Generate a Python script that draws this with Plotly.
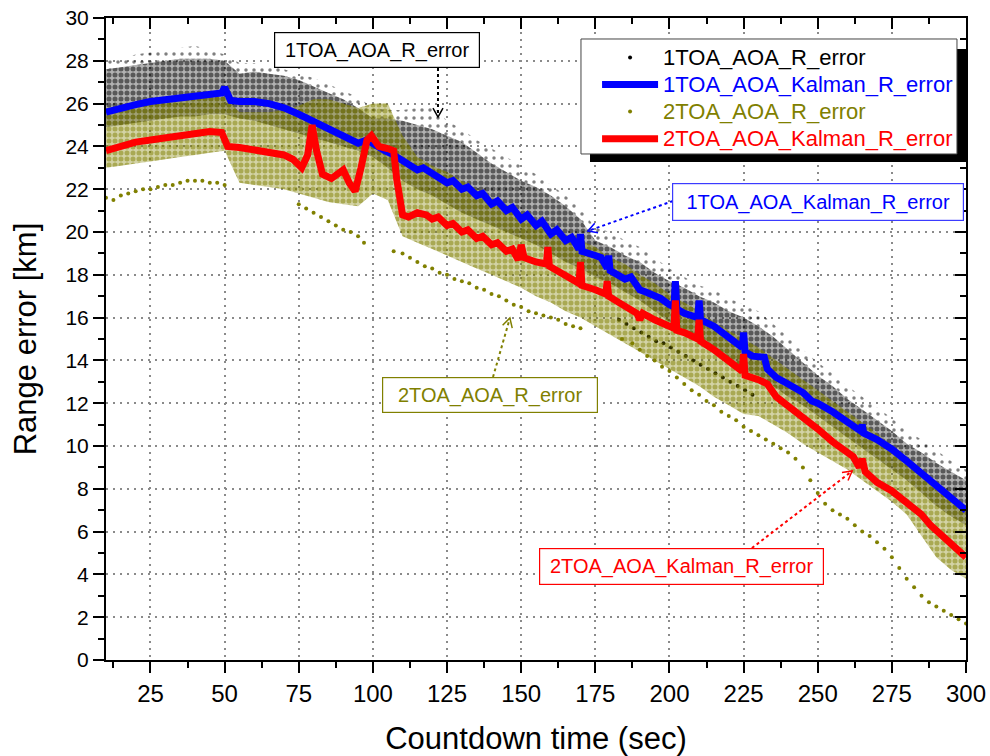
import math
import plotly.graph_objects as go

# ---------------- data ----------------
X5 = list(range(10, 301, 5))

# 1TOA_AOA_R_error : dense scatter cloud, upper / lower envelope
BLK_TOP = [27.6, 27.7, 27.8, 27.9, 28.0, 28.1, 28.1, 28.1, 28.0, 27.4,
           27.5, 27.4, 27.3, 27.1, 26.8, 26.5, 26.2, 25.8, 25.3, 25.3,
           25.2, 25.0, 24.8, 24.5, 24.2, 23.7, 23.2, 22.8, 22.4, 22.1,
           21.7, 21.2, 20.6, 19.6, 19.3, 18.9, 18.6, 18.1, 17.7, 17.4,
           17.0, 16.7, 16.3, 16.0, 15.6, 15.1, 14.5, 13.9, 13.3, 12.8,
           12.2, 11.7, 11.2, 10.7, 10.1, 9.7, 9.2, 8.8, 8.4]
BLK_BOT = [24.9, 25.0, 25.1, 25.2, 25.3, 25.4, 25.4, 25.5, 25.5, 25.3,
           25.2, 25.0, 24.8, 24.6, 24.4, 24.2, 24.0, 23.8, 23.5, 23.0,
           22.4, 22.0, 21.7, 21.3, 20.9, 20.6, 20.3, 20.0, 19.7, 19.4,
           19.0, 18.6, 18.3, 17.9, 17.6, 17.2, 16.8, 16.3, 15.8, 15.3,
           14.9, 14.4, 13.9, 13.5, 13.3, 12.8, 12.3, 11.9, 11.4, 10.9,
           10.4, 9.9, 9.4, 8.9, 8.4, 7.8, 7.2, 6.7, 6.3]
# sparse outlying 1TOA points above the dense band (upper limit)
BLK_OUT = [28.0, 28.1, 28.3, 28.4, 28.5, 28.6, 28.7, 28.5, 28.3, 27.9,
           27.9, 27.8, 27.6, 27.4, 27.2, 26.9, 26.6, 26.3, 25.8, 25.7,
           25.7, 25.8, 25.9, 25.2, 24.8, 24.3, 23.9, 23.5, 23.1, 22.7,
           22.2, 21.7, 21.1, 20.2, 20.0, 19.6, 19.3, 18.8, 18.3, 17.9,
           17.5, 17.3, 16.9, 16.6, 16.3, 15.7, 15.1, 14.5, 13.9, 13.4,
           12.8, 12.3, 11.8, 11.3, 10.7, 10.3, 9.8, 9.3, 8.9]
# separate thin strand of 1TOA points below the main band
BLK_LOW_X = [183, 185.5, 188, 190.5, 193, 195.5, 198, 200.5, 203, 205.5,
             208, 210.5, 213, 215.5, 218, 220.5, 223, 225.5, 228]
BLK_LOW_Y = [15.9, 15.7, 15.5, 15.3, 15.1, 14.9, 14.8, 14.6, 14.4, 14.2,
             14.0, 13.8, 13.6, 13.4, 13.2, 13.0, 12.8, 12.6, 12.4]

# 2TOA_AOA_R_error : dense scatter cloud, upper / lower envelope
OLV_TOP = [25.8, 25.9, 26.0, 26.1, 26.2, 26.3, 26.4, 26.4, 26.3, 25.6,
           25.6, 25.6, 25.7, 25.9, 26.2, 26.2, 26.0, 25.8, 26.0, 26.0,
           24.5, 23.5, 23.1, 22.8, 22.4, 22.0, 21.6, 21.3, 20.9, 20.5,
           20.2, 19.9, 19.6, 19.3, 18.8, 18.5, 18.0, 17.6, 17.1, 16.7,
           16.3, 15.8, 15.4, 15.0, 14.6, 14.1, 13.6, 13.1, 12.6, 12.1,
           11.6, 11.1, 10.6, 10.0, 9.4, 8.9, 8.3, 7.7, 7.2]
OLV_BOT = [23.0, 23.1, 23.2, 23.3, 23.4, 23.5, 23.6, 23.7, 23.8, 22.3,
           22.2, 22.1, 22.0, 21.8, 21.6, 21.4, 21.3, 21.2, 21.8, 21.5,
           19.8, 19.5, 19.2, 18.9, 18.6, 18.3, 18.0, 17.7, 17.4, 17.0,
           16.7, 16.3, 16.0, 15.6, 15.2, 14.8, 14.4, 14.0, 13.6, 13.2,
           12.8, 12.3, 11.9, 11.5, 11.4, 11.0, 10.6, 10.1, 9.7, 9.3,
           8.9, 8.4, 7.9, 7.4, 6.8, 5.8, 4.8, 4.2, 3.8]
# lowest strand of 2TOA points (None = gap)
OLV_LOW_X = [10, 12.5, 15, 17.5, 20, 22.5, 25, 27.5, 30, 32.5, 35, 37.5, 40, 42.5, 45, 47.5, 50, None,
             75, 77.5, 80, 82.5, 85, 87.5, 90, 92.5, 95, 97, None,
             107, 110, 112.5, 115, 117.5, 120, 122.5, 125, 127.5, 130, 132.5, 135, 137.5, 140,
             142.5, 145, 147.5, 150, 152.5, 155, 157.5, 160, 162.5, 165, 167.5, 170, None,
             184, 187.5, 190, 192.5, 195, 197.5, 200, 202.5, 205, 207.5, 210, 212.5, 215, 217.5,
             220, 222.5, 225, 227.5, 230, 232.5, 235, 237.5, 240, 242.5, 245, 247.5, 250, 252.5,
             255, 257.5, 260, 262.5, 265, 267.5, 270, 272.5, 275, 277.5, 280, 282.5, 285, 287.5,
             290, 292.5, 295, 297.5, 300]
OLV_LOW_Y = [21.6, 21.5, 21.7, 21.8, 21.9, 22.0, 22.0, 22.1, 22.2, 22.2, 22.3, 22.4, 22.4, 22.4, 22.3, 22.3, 22.2, None,
             21.3, 21.1, 20.9, 20.7, 20.5, 20.3, 20.1, 20.0, 19.8, 19.5, None,
             19.1, 19.0, 18.8, 18.6, 18.4, 18.3, 18.1, 18.0, 17.8, 17.7, 17.6, 17.4, 17.3, 17.1,
             17.0, 16.8, 16.6, 16.5, 16.3, 16.2, 16.1, 16.0, 15.9, 15.7, 15.6, 15.5, None,
             15.0, 14.8, 14.5, 14.2, 14.0, 13.7, 13.5, 13.2, 12.9, 12.6, 12.4, 12.1, 11.9, 11.6,
             11.4, 11.2, 10.9, 10.7, 10.5, 10.3, 10.1, 9.9, 9.7, 9.4, 9.0, 8.4, 7.8, 7.3,
             7.0, 6.8, 6.6, 6.3, 6.0, 5.8, 5.5, 5.2, 4.8, 4.3, 3.8, 3.4, 3.0, 2.7,
             2.5, 2.3, 2.1, 1.9, 1.7]

# 1TOA_AOA_Kalman_R_error
K1_X = [10, 15, 20, 25, 30, 35, 40, 45, 49, 50, 52, 55, 60, 65, 70, 75, 80, 85, 90, 95,
        98, 100, 104, 107, 110, 113, 115, 117, 120, 122, 125, 127, 130, 132, 135, 137, 140, 142, 145, 147,
        150, 152, 155, 157, 160, 162, 165, 167, 169.5, 170, 170.5, 175, 177, 179, 179.5, 180, 185, 187, 190, 192,
        195, 197, 200, 201.5, 202, 202.5, 205, 209.5, 210, 210.5, 215, 220, 224.5, 225, 225.5, 228, 232, 233, 236, 240,
        245, 248, 250, 255, 260, 264.5, 265, 265.5, 270, 275, 280, 285, 290, 295, 300]
K1_Y = [25.6, 25.8, 25.95, 26.1, 26.2, 26.3, 26.4, 26.45, 26.5, 26.75, 26.15, 26.1, 26.1, 26.0, 25.8, 25.5, 25.15, 24.8, 24.45, 24.15,
        24.3, 24.1, 23.8, 23.6, 23.3, 23.1, 22.9, 23.0, 22.7, 22.6, 22.3, 22.4, 22.0, 22.1, 21.7, 21.8, 21.3, 21.45, 21.0, 21.15,
        20.6, 20.8, 20.3, 20.5, 19.9, 20.1, 19.6, 19.75, 19.2, 19.9, 19.1, 18.9, 18.8, 18.3, 18.9, 18.2, 17.8, 17.9, 17.3, 17.2,
        17.0, 16.9, 16.6, 16.5, 17.7, 16.4, 16.2, 16.0, 16.8, 15.9, 15.6, 15.1, 14.6, 15.3, 14.4, 14.2, 14.15, 13.6, 13.2, 12.9,
        12.5, 12.1, 12.0, 11.6, 11.1, 10.7, 11.0, 10.6, 10.3, 9.85, 9.3, 8.7, 8.1, 7.6, 7.0]

# 2TOA_AOA_Kalman_R_error
K2_X = [10, 15, 20, 25, 30, 35, 40, 45, 49, 51, 55, 60, 65, 70, 73, 76, 78, 79.5, 81, 83,
        86, 88, 90, 92, 94, 96, 98, 99.5, 102, 105, 107, 108, 110, 112, 115, 118, 120, 122, 125, 127,
        130, 132, 135, 137, 140, 142, 145, 147, 149, 150, 151, 155, 158.5, 159, 159.5, 162, 165, 169.5, 170, 170.5,
        175, 178.5, 179, 179.5, 183, 187, 189, 190, 191, 195, 198, 201.5, 202, 202.5, 205, 209.5, 210, 210.5, 215, 220,
        224.5, 225, 225.5, 230, 233, 236, 240, 243, 246, 250, 255, 259, 262, 264, 265, 266, 270, 275, 281, 285,
        288, 292, 295, 300]
K2_Y = [23.8, 24.0, 24.2, 24.3, 24.4, 24.5, 24.6, 24.7, 24.65, 24.0, 23.95, 23.85, 23.7, 23.6, 23.4, 23.0, 23.6, 25.0, 23.8, 22.7,
        22.5, 22.7, 22.9, 22.3, 21.9, 23.0, 24.3, 24.5, 24.0, 23.9, 23.8, 22.5, 20.8, 20.7, 20.9, 20.8, 20.6, 20.7, 20.3, 20.4,
        20.0, 20.1, 19.7, 19.8, 19.4, 19.5, 19.1, 19.2, 18.7, 19.4, 18.8, 18.6, 18.5, 19.3, 18.4, 18.2, 17.95, 17.6, 18.6, 17.5,
        17.3, 17.1, 17.7, 17.0, 16.7, 16.4, 16.2, 15.9, 16.2, 15.9, 15.7, 15.5, 16.8, 15.4, 15.3, 15.0, 15.9, 14.9, 14.5, 14.0,
        13.5, 14.3, 13.3, 13.1, 12.9, 12.3, 11.9, 11.6, 11.2, 10.8, 10.2, 9.8, 9.5, 9.0, 9.4, 8.8, 8.3, 7.9, 7.3, 6.8,
        6.3, 5.8, 5.5, 4.8]

NAMES = ["1TOA_AOA_R_error", "1TOA_AOA_Kalman_R_error",
         "2TOA_AOA_R_error", "2TOA_AOA_Kalman_R_error"]
COLORS = ["#000000", "#0000FF", "#808000", "#FF0000"]
HAZE = ["rgba(0,0,0,0.30)", None, "rgba(128,128,0,0.35)", None]

X_TICKS = [25, 50, 75, 100, 125, 150, 175, 200, 225, 250, 275, 300]
Y_TICKS = list(range(0, 31, 2))

# ---------------- figure ----------------
FONT = "Liberation Sans, Arial, sans-serif"
fig = go.Figure()


def cloud(top, bot, color, bg="rgba(0,0,0,0)", size=6, solidity=0.55):
    return go.Scatter(
        x=X5 + X5[::-1], y=top + bot[::-1], fill="toself", mode="none",
        fillcolor="rgba(0,0,0,0)",
        fillpattern=dict(shape=".", fgcolor=color, bgcolor=bg,
                         size=size, solidity=solidity),
        showlegend=False, hoverinfo="skip")


def lname(i):
    return '<span style="color:%s;font-size:22px">%s</span>' % (COLORS[i], NAMES[i])


fig.add_trace(cloud(BLK_OUT, BLK_TOP, COLORS[0], size=8, solidity=0.15))
fig.add_trace(cloud(BLK_TOP, BLK_BOT, COLORS[0], bg=HAZE[0]))
fig.add_trace(go.Scatter(x=BLK_LOW_X, y=BLK_LOW_Y, mode="markers",
                         marker=dict(size=4, color=COLORS[0]),
                         name=lname(0), legendrank=1))
fig.add_trace(cloud(OLV_TOP, OLV_BOT, COLORS[2], bg=HAZE[2]))
fig.add_trace(go.Scatter(x=OLV_LOW_X, y=OLV_LOW_Y, mode="markers",
                         marker=dict(size=4, color=COLORS[2]),
                         name=lname(2), legendrank=3))
fig.add_trace(go.Scatter(x=K1_X, y=K1_Y, mode="lines",
                         line=dict(color=COLORS[1], width=7),
                         name=lname(1), legendrank=2))
fig.add_trace(go.Scatter(x=K2_X, y=K2_Y, mode="lines",
                         line=dict(color=COLORS[3], width=7),
                         name=lname(3), legendrank=4))
# carrier for the mirrored top/right axes
fig.add_trace(go.Scatter(x=[None], y=[None], xaxis="x2", yaxis="y2",
                         showlegend=False, hoverinfo="skip"))

grid = dict(showgrid=True, gridcolor="#8a8a8a", gridwidth=2, griddash="2px,5px")
common = dict(showline=True, linewidth=2, linecolor="black", zeroline=False,
              tickwidth=2, tickcolor="black", ticklen=11, automargin=False)

fig.update_layout(
    width=990, height=756,
    margin=dict(l=106, r=24, t=18, b=96),
    paper_bgcolor="white", plot_bgcolor="white",
    font=dict(family=FONT, color="black"),
    xaxis=dict(range=[10, 300], tickmode="array", tickvals=X_TICKS, ticks="outside",
               tickfont=dict(size=24), minor=dict(dtick=12.5, tick0=0, ticks="outside",
                                                 ticklen=6, tickwidth=2, tickcolor="black"),
               title=dict(text="Countdown time (sec)", font=dict(size=31), standoff=23),
               **grid, **common),
    yaxis=dict(range=[0, 30], tickmode="array", tickvals=Y_TICKS, ticks="outside",
               tickfont=dict(size=21), minor=dict(dtick=1, tick0=0, ticks="outside",
                                                 ticklen=6, tickwidth=2, tickcolor="black"),
               title=dict(text="Range error [km]", font=dict(size=31), standoff=20),
               **grid, **common),
    xaxis2=dict(range=[10, 300], overlaying="x", side="top", anchor="y2",
                tickmode="array", tickvals=X_TICKS, ticks="inside", showticklabels=False,
                showgrid=False,
                minor=dict(dtick=12.5, tick0=0, ticks="inside", ticklen=6,
                           tickwidth=2, tickcolor="black"),
                **common),
    yaxis2=dict(range=[0, 30], overlaying="y", side="right", anchor="x2",
                tickmode="array", tickvals=Y_TICKS, ticks="inside", showticklabels=False,
                showgrid=False,
                minor=dict(dtick=1, tick0=0, ticks="inside", ticklen=6,
                           tickwidth=2, tickcolor="black"),
                **common),
    legend=dict(x=0.571, y=0.9673, xanchor="left", yanchor="top",
                bgcolor="rgba(0,0,0,0)", borderwidth=0,
                font=dict(size=18.5, family=FONT), itemwidth=56, tracegroupgap=0),
    showlegend=True,
)

# legend frame with drop shadow
fig.add_shape(type="rect", xref="paper", yref="paper",
              x0=0.5628, x1=1.0012, y0=0.7757, y1=0.9517,
              fillcolor="black", line=dict(width=0), layer="above")
fig.add_shape(type="rect", xref="paper", yref="paper",
              x0=0.5523, x1=0.9895, y0=0.7882, y1=0.9673,
              fillcolor="white", line=dict(color="#444444", width=1), layer="above")

# ---------------- call-out boxes with dotted arrows ----------------
PX_X = 860 / 290.0   # pixels per x unit
PX_Y = 642 / 30.0    # pixels per y unit
CALLOUTS = [
    # series index, box centre x, y, box w, h, border colour, arrow tail, arrow tip
    (0, 101.4, 28.5, 194, 24, "#000000", (121.95, 27.66), (121.95, 25.37)),
    (1, 250.1, 21.4, 280, 26, "#3b3bff", (201.2, 21.45), (172.5, 20.05)),
    (2, 139.5, 12.38, 204, 24, "#808000", (140.5, 13.22), (146.2, 15.98)),
    (3, 204.2, 4.39, 273, 25, "#FF0000", (227.8, 5.23), (261.6, 8.83)),
]
for idx, cx, cy, w, h, bc, tail, tip in CALLOUTS:
    fig.add_annotation(x=cx, y=cy, xref="x", yref="y", text=NAMES[idx], showarrow=False,
                       font=dict(size=20, color=COLORS[idx], family=FONT),
                       bgcolor="white", bordercolor=bc, borderwidth=1.2, borderpad=5,
                       width=w, height=h)
    fig.add_shape(type="line", x0=tail[0], y0=tail[1], x1=tip[0], y1=tip[1],
                  line=dict(color=COLORS[idx], width=2, dash="dot"), layer="above")
    dx = (tip[0] - tail[0]) * PX_X
    dy = (tip[1] - tail[1]) * PX_Y
    n = math.hypot(dx, dy)
    ux, uy = dx / n, dy / n
    L, W = 9, 5
    p1 = (-L * ux - W * uy, -L * uy + W * ux)
    p2 = (-L * ux + W * uy, -L * uy - W * ux)
    path = "M%.2f,%.2f L0,0 L%.2f,%.2f" % (p1[0], p1[1], p2[0], p2[1])
    fig.add_shape(type="path", xref="x", yref="y", xsizemode="pixel", ysizemode="pixel",
                  xanchor=tip[0], yanchor=tip[1], path=path,
                  line=dict(color=COLORS[idx], width=1.5), layer="above")

fig.write_html("out.html")
